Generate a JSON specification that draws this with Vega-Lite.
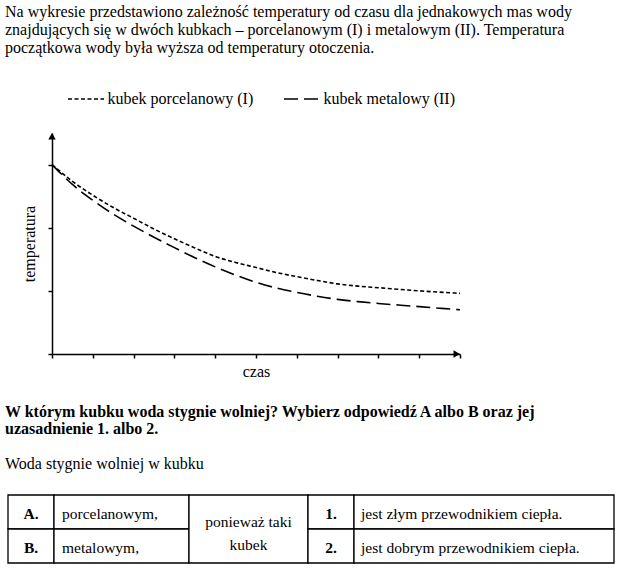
{
  "$schema": "https://vega.github.io/schema/vega-lite/v6.json",
  "background": "white",
  "padding": {"left": 5, "top": 0, "right": 0, "bottom": 0},
  "spacing": 0,
  "resolve": {"scale": {"strokeDash": "independent"}, "legend": {"strokeDash": "independent"}},
  "config": {
    "view": {"stroke": null},
    "font": "Liberation Serif",
    "text": {"font": "Liberation Serif", "color": "black", "fontSize": 15.5},
    "axis": {"domainColor": "black", "tickColor": "black", "domainWidth": 1.5, "tickWidth": 1.5, "grid": false, "labels": false, "titleFont": "Liberation Serif", "titleFontSize": 16, "titleFontWeight": "normal", "titleColor": "black"},
    "concat": {"spacing": 0}
  },
  "vconcat": [
    {
      "width": 608,
      "height": 80,
      "data": {"values": [
        {"line": 1, "text": "Na wykresie przedstawiono zależność temperatury od czasu dla jednakowych mas wody"},
        {"line": 2, "text": "znajdujących się w dwóch kubkach – porcelanowym (I) i metalowym (II). Temperatura"},
        {"line": 3, "text": "początkowa wody była wyższa od temperatury otoczenia."}
      ]},
      "mark": {"type": "text", "align": "left", "baseline": "alphabetic", "font": "Liberation Serif", "fontSize": 16, "color": "black"},
      "encoding": {
        "x": {"datum": 0, "type": "quantitative", "scale": {"domain": [0, 1]}, "axis": null},
        "y": {"field": "line", "type": "quantitative", "scale": {"domain": [0, 3], "range": [-1, 53]}, "axis": null},
        "text": {"field": "text"}
      }
    },
    {
      "spacing": 0,
      "resolve": {"scale": {"strokeDash": "independent"}, "legend": {"strokeDash": "independent"}},
      "hconcat": [
        {
          "width": 16,
          "height": 1,
          "data": {"values": [{}]},
          "mark": {"type": "text", "text": ""},
          "encoding": {}
        },
        {
          "width": 408,
          "height": 221,
          "layer": [
            {
              "data": {"values": [
                {"t": 0, "temp": 6.0, "kubek": "kubek porcelanowy (I)"},
                {"t": 0.5, "temp": 5.47, "kubek": "kubek porcelanowy (I)"},
                {"t": 1, "temp": 5.03, "kubek": "kubek porcelanowy (I)"},
                {"t": 1.5, "temp": 4.64, "kubek": "kubek porcelanowy (I)"},
                {"t": 2, "temp": 4.3, "kubek": "kubek porcelanowy (I)"},
                {"t": 2.5, "temp": 3.96, "kubek": "kubek porcelanowy (I)"},
                {"t": 3, "temp": 3.65, "kubek": "kubek porcelanowy (I)"},
                {"t": 3.5, "temp": 3.36, "kubek": "kubek porcelanowy (I)"},
                {"t": 4, "temp": 3.09, "kubek": "kubek porcelanowy (I)"},
                {"t": 4.5, "temp": 2.9, "kubek": "kubek porcelanowy (I)"},
                {"t": 5, "temp": 2.74, "kubek": "kubek porcelanowy (I)"},
                {"t": 5.5, "temp": 2.58, "kubek": "kubek porcelanowy (I)"},
                {"t": 6, "temp": 2.45, "kubek": "kubek porcelanowy (I)"},
                {"t": 6.5, "temp": 2.33, "kubek": "kubek porcelanowy (I)"},
                {"t": 7, "temp": 2.22, "kubek": "kubek porcelanowy (I)"},
                {"t": 7.5, "temp": 2.15, "kubek": "kubek porcelanowy (I)"},
                {"t": 8, "temp": 2.1, "kubek": "kubek porcelanowy (I)"},
                {"t": 8.5, "temp": 2.05, "kubek": "kubek porcelanowy (I)"},
                {"t": 9, "temp": 2.0, "kubek": "kubek porcelanowy (I)"},
                {"t": 9.5, "temp": 1.96, "kubek": "kubek porcelanowy (I)"},
                {"t": 10, "temp": 1.92, "kubek": "kubek porcelanowy (I)"},
                {"t": 0, "temp": 6.0, "kubek": "kubek metalowy (II)"},
                {"t": 0.5, "temp": 5.37, "kubek": "kubek metalowy (II)"},
                {"t": 1, "temp": 4.87, "kubek": "kubek metalowy (II)"},
                {"t": 1.5, "temp": 4.43, "kubek": "kubek metalowy (II)"},
                {"t": 2, "temp": 4.05, "kubek": "kubek metalowy (II)"},
                {"t": 2.5, "temp": 3.7, "kubek": "kubek metalowy (II)"},
                {"t": 3, "temp": 3.37, "kubek": "kubek metalowy (II)"},
                {"t": 3.5, "temp": 3.05, "kubek": "kubek metalowy (II)"},
                {"t": 4, "temp": 2.76, "kubek": "kubek metalowy (II)"},
                {"t": 4.5, "temp": 2.5, "kubek": "kubek metalowy (II)"},
                {"t": 5, "temp": 2.27, "kubek": "kubek metalowy (II)"},
                {"t": 5.5, "temp": 2.09, "kubek": "kubek metalowy (II)"},
                {"t": 6, "temp": 1.95, "kubek": "kubek metalowy (II)"},
                {"t": 6.5, "temp": 1.83, "kubek": "kubek metalowy (II)"},
                {"t": 7, "temp": 1.73, "kubek": "kubek metalowy (II)"},
                {"t": 7.5, "temp": 1.66, "kubek": "kubek metalowy (II)"},
                {"t": 8, "temp": 1.6, "kubek": "kubek metalowy (II)"},
                {"t": 8.5, "temp": 1.55, "kubek": "kubek metalowy (II)"},
                {"t": 9, "temp": 1.5, "kubek": "kubek metalowy (II)"},
                {"t": 9.5, "temp": 1.45, "kubek": "kubek metalowy (II)"},
                {"t": 10, "temp": 1.4, "kubek": "kubek metalowy (II)"}
              ]},
              "mark": {"type": "line", "interpolate": "monotone", "color": "black", "strokeWidth": 1.6},
              "encoding": {
                "x": {"field": "t", "type": "quantitative", "scale": {"domain": [0, 10], "nice": false}, "axis": {"title": "czas", "values": [0, 1, 2, 3, 4, 5, 6, 7, 8, 9, 10], "tickSize": 4, "titlePadding": 5}},
                "y": {"field": "temp", "type": "quantitative", "scale": {"domain": [0, 7], "nice": false}, "axis": {"title": "temperatura", "values": [0, 1, 2, 3, 4, 5, 6], "tickSize": 4, "titlePadding": 10}},
                "strokeDash": {
                  "field": "kubek", "type": "nominal",
                  "scale": {"domain": ["kubek porcelanowy (I)", "kubek metalowy (II)"], "range": [[4, 2.5], [14, 6]]},
                  "legend": {"title": null, "orient": "none", "legendX": 15, "legendY": -53, "direction": "horizontal", "symbolType": "stroke", "symbolSize": 1296, "symbolStrokeColor": "black", "symbolStrokeWidth": 1.5, "labelFont": "Liberation Serif", "labelFontSize": 16, "labelColor": "black", "labelOffset": 2.5, "columnPadding": 27, "padding": 0}
                }
              }
            },
            {
              "data": {"values": [{"t": 0, "temp": 6.9}]},
              "mark": {"type": "point", "shape": "triangle-up", "filled": true, "color": "black", "opacity": 1, "size": 56},
              "encoding": {"x": {"field": "t", "type": "quantitative"}, "y": {"field": "temp", "type": "quantitative"}}
            },
            {
              "data": {"values": [{"t": 9.92, "temp": 0}]},
              "mark": {"type": "point", "shape": "triangle-right", "filled": true, "color": "black", "opacity": 1, "size": 56},
              "encoding": {"x": {"field": "t", "type": "quantitative"}, "y": {"field": "temp", "type": "quantitative"}}
            }
          ]
        }
      ]
    },
    {
      "width": 608,
      "height": 114,
      "encoding": {
        "x": {"datum": 0, "type": "quantitative", "scale": {"domain": [0, 1]}, "axis": null},
        "y": {"field": "line", "type": "quantitative", "scale": {"domain": [0, 4], "range": [19, 89.4]}, "axis": null},
        "text": {"field": "text"}
      },
      "layer": [
        {
          "data": {"values": [
            {"line": 1, "text": "W którym kubku woda stygnie wolniej? Wybierz odpowiedź A albo B oraz jej"},
            {"line": 2, "text": "uzasadnienie 1. albo 2."}
          ]},
          "mark": {"type": "text", "align": "left", "baseline": "alphabetic", "fontWeight": "bold", "font": "Liberation Serif", "fontSize": 16, "color": "black"}
        },
        {
          "data": {"values": [{"line": 4, "text": "Woda stygnie wolniej w kubku"}]},
          "mark": {"type": "text", "align": "left", "baseline": "alphabetic", "font": "Liberation Serif", "fontSize": 16, "color": "black"}
        }
      ]
    },
    {
      "spacing": 0,
      "bounds": "flush",
      "hconcat": [
        {
          "width": 2.4,
          "height": 68,
          "data": {"values": [{}]},
          "mark": {"type": "text", "text": ""},
          "encoding": {}
        },
        {
          "width": 46,
          "height": 68,
          "data": {"values": [{"row": "A", "text": "A."}, {"row": "B", "text": "B."}]},
          "encoding": {
            "y": {"field": "row", "type": "nominal", "axis": null, "scale": {"paddingInner": 0, "paddingOuter": 0}}
          },
          "layer": [
            {"mark": {"type": "rect", "fill": "white", "stroke": "black", "strokeWidth": 1.3},
             "encoding": {"x": {"datum": 0, "type": "quantitative", "scale": {"domain": [0, 1]}, "axis": null}, "x2": {"datum": 1}}},
            {"mark": {"type": "text", "align": "center", "baseline": "middle", "fontWeight": "bold", "dy": 1.5, "font": "Liberation Serif", "fontSize": 15.5, "color": "black"},
             "encoding": {"x": {"datum": 0.5, "type": "quantitative"}, "text": {"field": "text"}}}
          ]
        },
        {
          "width": 135,
          "height": 68,
          "data": {"values": [{"row": "A", "text": "porcelanowym,"}, {"row": "B", "text": "metalowym,"}]},
          "encoding": {
            "y": {"field": "row", "type": "nominal", "axis": null, "scale": {"paddingInner": 0, "paddingOuter": 0}}
          },
          "layer": [
            {"mark": {"type": "rect", "fill": "white", "stroke": "black", "strokeWidth": 1.3},
             "encoding": {"x": {"datum": 0, "type": "quantitative", "scale": {"domain": [0, 1]}, "axis": null}, "x2": {"datum": 1}}},
            {"mark": {"type": "text", "align": "left", "baseline": "middle", "dx": 8, "dy": 1.5, "font": "Liberation Serif", "fontSize": 15.5, "color": "black"},
             "encoding": {"x": {"datum": 0, "type": "quantitative"}, "text": {"field": "text"}}}
          ]
        },
        {
          "width": 119,
          "height": 68,
          "data": {"values": [{"row": "AB", "text": "ponieważ taki\nkubek"}]},
          "encoding": {
            "y": {"field": "row", "type": "nominal", "axis": null, "scale": {"paddingInner": 0, "paddingOuter": 0}}
          },
          "layer": [
            {"mark": {"type": "rect", "fill": "white", "stroke": "black", "strokeWidth": 1.3},
             "encoding": {"x": {"datum": 0, "type": "quantitative", "scale": {"domain": [0, 1]}, "axis": null}, "x2": {"datum": 1}}},
            {"mark": {"type": "text", "align": "center", "baseline": "middle", "lineBreak": "\n", "lineHeight": 23, "dy": -7, "font": "Liberation Serif", "fontSize": 15.5, "color": "black"},
             "encoding": {"x": {"datum": 0.5, "type": "quantitative"}, "text": {"field": "text"}}}
          ]
        },
        {
          "width": 46,
          "height": 68,
          "data": {"values": [{"row": "1", "text": "1."}, {"row": "2", "text": "2."}]},
          "encoding": {
            "y": {"field": "row", "type": "nominal", "axis": null, "scale": {"paddingInner": 0, "paddingOuter": 0}}
          },
          "layer": [
            {"mark": {"type": "rect", "fill": "white", "stroke": "black", "strokeWidth": 1.3},
             "encoding": {"x": {"datum": 0, "type": "quantitative", "scale": {"domain": [0, 1]}, "axis": null}, "x2": {"datum": 1}}},
            {"mark": {"type": "text", "align": "center", "baseline": "middle", "fontWeight": "bold", "dy": 1.5, "font": "Liberation Serif", "fontSize": 15.5, "color": "black"},
             "encoding": {"x": {"datum": 0.5, "type": "quantitative"}, "text": {"field": "text"}}}
          ]
        },
        {
          "width": 260,
          "height": 68,
          "data": {"values": [{"row": "1", "text": "jest złym przewodnikiem ciepła."}, {"row": "2", "text": "jest dobrym przewodnikiem ciepła."}]},
          "encoding": {
            "y": {"field": "row", "type": "nominal", "axis": null, "scale": {"paddingInner": 0, "paddingOuter": 0}}
          },
          "layer": [
            {"mark": {"type": "rect", "fill": "white", "stroke": "black", "strokeWidth": 1.3},
             "encoding": {"x": {"datum": 0, "type": "quantitative", "scale": {"domain": [0, 1]}, "axis": null}, "x2": {"datum": 1}}},
            {"mark": {"type": "text", "align": "left", "baseline": "middle", "dx": 7, "dy": 1.5, "font": "Liberation Serif", "fontSize": 15.5, "color": "black"},
             "encoding": {"x": {"datum": 0, "type": "quantitative"}, "text": {"field": "text"}}}
          ]
        }
      ]
    }
  ]
}
